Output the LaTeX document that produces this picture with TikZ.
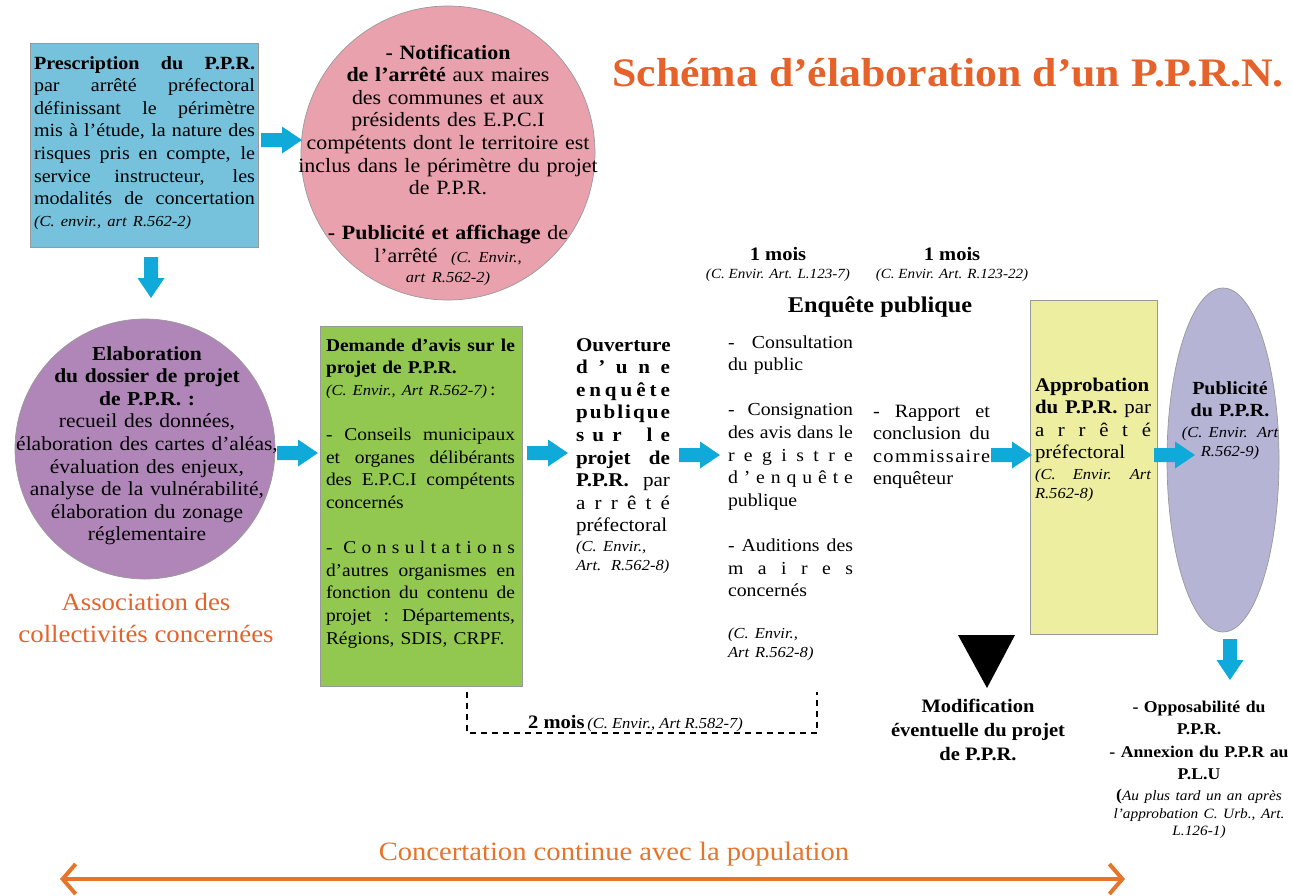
\documentclass[tikz,border=0pt]{standalone}
\usepackage{fontspec}
\setmainfont{Liberation Serif}[FakeStretch=1.08]
\usetikzlibrary{arrows.meta,shapes.geometric}
\definecolor{boxblue}{RGB}{118,193,219}
\definecolor{pinkc}{RGB}{234,161,174}
\definecolor{purp}{RGB}{176,134,185}
\definecolor{grn}{RGB}{146,200,80}
\definecolor{yel}{RGB}{238,238,160}
\definecolor{lav}{RGB}{182,180,213}
\definecolor{arrblue}{RGB}{16,170,218}
\definecolor{orng}{RGB}{229,99,42}
\definecolor{orng2}{RGB}{230,117,44}
\newcommand\J[1]{\makebox[\hsize][s]{\spaceskip=.25em plus 1fil\xspaceskip=.3em plus 1fil\relax #1}}
\newcommand\fs[1]{\fontsize{#1}{22.6}\selectfont}
\newcommand\cit[2][15.3]{{\fontsize{#1}{20}\selectfont\mdseries\itshape #2}}
\begin{document}
\begin{tikzpicture}[x=1pt,y=-1pt,
  every node/.style={inner sep=0pt, outer sep=0pt},
  blk/.style={draw=black!40, line width=0.7pt},
  tl/.style={anchor=north west, align=left},
  tc/.style={anchor=north, align=center},
  barrow/.pic={\fill[arrblue] (-21,-7) -- (0,-7) -- (0,-13.5) -- (20,0) -- (0,13.5) -- (0,7) -- (-21,7) -- cycle;}]
\fill[white] (0,0) rectangle (1292,895);
\useasboundingbox (0,0) rectangle (1292,895);

% title
\node[anchor=base, text=orng, font=\bfseries\fontsize{40.5}{44}\selectfont] (title) at (948,86) {Schéma d’élaboration d’un P.P.R.N.};

% shapes
\node[blk, fill=boxblue, minimum width=228, minimum height=204, anchor=north west] (presc) at (30,43) {};
\node[blk, circle, fill=pinkc, minimum size=294] (notif) at (448,153) {};
\node[blk, circle, fill=purp, minimum size=260] (elab) at (145,449) {};
\node[blk, fill=grn, minimum width=202, minimum height=360, anchor=north west] (avis) at (320,326) {};
\node[blk, fill=yel, minimum width=127, minimum height=334, anchor=north west] (appro) at (1030,300) {};
\node[blk, ellipse, fill=lav, minimum width=112, minimum height=344] (pub) at (1223,460) {};

% texts
\node[tl, text width=221, font=\fs{18.6}] (prescT) at (34,53.2) {\strut
\J{\bfseries Prescription du P.P.R.}\\
\J{par arrêté préfectoral}\\
\J{définissant le périmètre}\\
\J{mis à l’étude, la nature des}\\
\J{risques pris en compte, le}\\
\J{service instructeur, les}\\
\J{modalités de concertation}\\[-0.6pt]
\cit{(C. envir., art R.562-2)}};

\node[tc, text width=330, font=\fs{20.3}] (notifT) at (448,43.2) {\strut
\textbf{- Notification}\\
\textbf{de l’arrêté} aux maires\\
des communes et aux\\
présidents des E.P.C.I\\
compétents dont le territoire est\\
inclus dans le périmètre du projet\\
de P.P.R.\\[22.6pt]
\textbf{- Publicité et affichage} de\\
l’arrêté~~\cit{(C. Envir.,}\\[-2.6pt]
\cit{art R.562-2)}};

\node[tc, text width=275, font=\fs{19.9}] (elabT) at (147,344.2) {\strut
\textbf{Elaboration}\\
\textbf{du dossier de projet}\\
\textbf{de P.P.R. :}\\
recueil des données,\\
élaboration des cartes d’aléas,\\
évaluation des enjeux,\\
analyse de la vulnérabilité,\\
élaboration du zonage\\
réglementaire};

\node[anchor=north, align=center, text=orng, font=\fontsize{24.8}{32}\selectfont] (assoc) at (146,587.6) {\strut Association des\\collectivités concernées};

\node[tl, text width=189, font=\fs{18}] (avisT) at (326,335.2) {\strut
\J{\bfseries Demande d’avis sur le}\\
\textbf{projet de P.P.R.}\\[-0.6pt]
\cit{(C. Envir., Art R.562-7)}\,:\\[22.4pt]
\J{- Conseils municipaux}\\
\J{et organes délibérants}\\
\J{des E.P.C.I compétents}\\
concernés\\[22.6pt]
\J{-\hfill\hfill C\hfill o\hfill n\hfill s\hfill u\hfill l\hfill t\hfill a\hfill t\hfill i\hfill o\hfill n\hfill s}\\
\J{d’autres organismes en}\\
\J{fonction du contenu de}\\
\J{projet : Départements,}\\
Régions, SDIS, CRPF.};

\node[tl, text width=94, font=\fs{19.5}] (ouvT) at (576,335.2) {\strut
\J{\bfseries O\hfill u\hfill v\hfill e\hfill r\hfill t\hfill u\hfill r\hfill e}\\
\J{\bfseries d\hfill ’\hfill u\hfill n\hfill e}\\
\J{\bfseries e\hfill n\hfill q\hfill u\hfill ê\hfill t\hfill e}\\
\J{\bfseries p\hfill u\hfill b\hfill l\hfill i\hfill q\hfill u\hfill e}\\
\J{\bfseries s\hfill u\hfill r\hfill\hfill\hfill l\hfill e}\\
\J{\bfseries projet de}\\
\J{\textbf{P.P.R.} par}\\
\J{a\hfill r\hfill r\hfill ê\hfill t\hfill é}\\
préfectoral\\[-2.6pt]
\mbox{\cit{(C. Envir.,}}\\[-3.6pt]
\mbox{\cit{Art. R.562-8)}}};

\node[anchor=base, font=\bfseries\fs{19}] (mois1) at (778,260) {1 mois};
\node[anchor=base] (mois1r) at (778,278) {\cit[14]{(C. Envir. Art. L.123-7)}};
\node[anchor=base, font=\bfseries\fs{19}] (mois2) at (952,260) {1 mois};
\node[anchor=base] (mois2r) at (952,278) {\cit[14]{(C. Envir. Art. R.123-22)}};
\node[anchor=base, font=\bfseries\fs{22.5}] (enq) at (880,312) {Enquête publique};

\node[tl, text width=125, font=\fs{18.3}] (enqA) at (728,332.2) {\strut
\J{- Consultation}\\
du public\\[22.6pt]
\J{- Consignation}\\
\J{des avis dans le}\\
\J{r\hfill e\hfill g\hfill i\hfill s\hfill t\hfill r\hfill e}\\
\J{d\hfill ’\hfill e\hfill n\hfill q\hfill u\hfill ê\hfill t\hfill e}\\
publique\\[22.6pt]
\J{- Auditions des}\\
\J{m\hfill a\hfill i\hfill r\hfill e\hfill s}\\
concernés\\[18.8pt]
\cit{(C. Envir.,}\\[-3.6pt]
\cit{Art R.562-8)}};

\node[tl, text width=117, font=\fs{18.8}] (enqB) at (873,401.2) {\strut
\J{- Rapport et}\\
\J{conclusion du}\\
\J{c\hfill o\hfill m\hfill m\hfill i\hfill s\hfill s\hfill a\hfill i\hfill r\hfill e}\\
enquêteur};

\node[tl, text width=116, font=\fs{19.3}] (approT) at (1035,375.2) {\strut
\J{\bfseries Approbation}\\
\J{\textbf{du P.P.R.} par}\\
\J{a\hfill r\hfill r\hfill ê\hfill t\hfill é}\\
préfectoral\\[-2.4pt]
\J{\cit{(C. Envir. Art}}\\[-3.6pt]
\cit{R.562-8)}};

\node[tc, text width=110, font=\fs{18.5}] (pubT) at (1230,378.2) {\strut
\textbf{Publicité}\\
\textbf{du P.P.R.}\\[-1.6pt]
\cit{(C. Envir. Art}\\[-3.6pt]
\cit{R.562-9)}};

\node[tc, text width=186, font=\bfseries\fs{16.4}] (oppo) at (1199,696.2) {\strut
- Opposabilité du\\
P.P.R.\\
- Annexion du P.P.R au\\
P.L.U\\[-1.6pt]
(\cit[14.2]{Au plus tard un an après}\\[-4.6pt]
\cit[14.2]{l’approbation C. Urb., Art.}\\[-5.6pt]
\cit[14.2]{L.126-1)}};

% triangle + modification
\fill (958,635) -- (1015,635) -- (987,688) -- cycle;
\node[anchor=north, align=center, font=\bfseries\fontsize{19}{24}\selectfont] (modif) at (978,695.2) {\strut Modification\\éventuelle du projet\\de P.P.R.};

% block arrows
\pic at (282,140) {barrow};
\pic[rotate=-90] at (151,278) {barrow};
\pic at (298,453) {barrow};
\pic at (548,453) {barrow};
\pic at (700,455) {barrow};
\pic at (1012,455) {barrow};
\pic at (1175,455) {barrow};
\pic[rotate=-90] at (1230,660) {barrow};

% dashed bracket
\coordinate (dL) at (467,692);
\coordinate (dR) at (817,692);
\draw[line width=1.2pt, dash pattern=on 6pt off 5pt] (dL) |- (dR |- 0,733) -- (dR);
\node[anchor=base] (deux) at (633,728) {{\bfseries\fs{19} 2 mois} \cit{(C. Envir., Art R.582-7)}};

% bottom
\node[anchor=base, text=orng2, font=\fontsize{26.5}{30}\selectfont] (conc) at (614,860) {Concertation continue avec la population};
\coordinate (cl) at (60,879);
\coordinate (cr) at (1125,879);
\draw[orng2, line width=4pt, {Straight Barb[length=13pt,width=30pt]}-{Straight Barb[length=13pt,width=30pt]}] (cl) -- (cr);
\end{tikzpicture}
\end{document}
